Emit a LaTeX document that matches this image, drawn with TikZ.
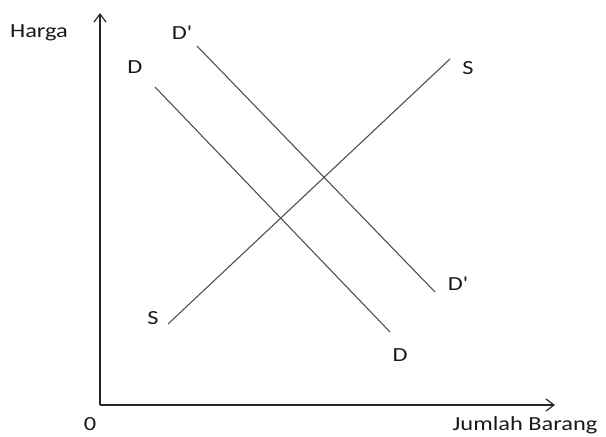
\documentclass[tikz,border=0pt]{standalone}
\usepackage{fontspec}
\setmainfont{Carlito}[FakeStretch=1.22,Ligatures=TeXOff]
\usetikzlibrary{arrows.meta}
\tikzset{
  axis/.style={line width=1.2pt,black!85,-{Straight Barb[length=6pt,width=9pt,line width=0.9pt]}},
  curve/.style={line width=0.8pt,black!70},
  lbl/.style={inner sep=0pt,font=\fontsize{15}{18}\selectfont,text=black!90}
}

\begin{document}
\begin{tikzpicture}[x=0.75pt,y=-0.75pt]
\useasboundingbox (0,0) rectangle (606,436);
\coordinate (o) at (100,405);
\coordinate (ytop) at (100,13);
\coordinate (xend) at (555,405);
\draw[axis] (o) -- (ytop);
\draw[axis] (o) -- (xend);
\node[lbl] (harga) at (39,33) {Harga};
\node[lbl] (jumlah) at (525,425) {Jumlah Barang};
\node[lbl] (nol) at (90,424) {0};
% kurva permintaan D
\coordinate (d1) at (155,87); \coordinate (d2) at (390,332);
\draw[curve] (d1) -- (d2);
\node[lbl] (dtop) at (135,67) {D}; \node[lbl] (dbot) at (400,355) {D};
% kurva permintaan D'
\coordinate (e1) at (197,46); \coordinate (e2) at (435,292);
\draw[curve] (e1) -- (e2);
\node[lbl] (etop) at (182,33) {D'}; \node[lbl] (ebot) at (458,284) {D'};
% kurva penawaran S
\coordinate (s1) at (168,324); \coordinate (s2) at (450,59);
\draw[curve] (s1) -- (s2);
\node[lbl] (sbot) at (153,318) {S}; \node[lbl] (stop) at (468,68) {S};
\end{tikzpicture}
\end{document}
